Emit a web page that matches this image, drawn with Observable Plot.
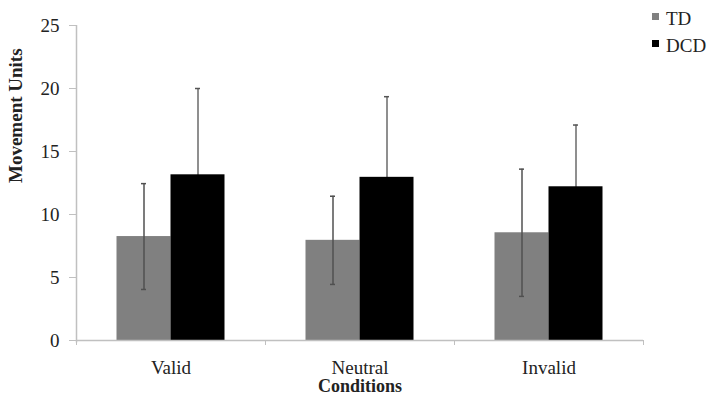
<!DOCTYPE html>
<html>
<head>
<meta charset="utf-8">
<script src="https://cdn.jsdelivr.net/npm/d3@7"></script>
<script src="https://cdn.jsdelivr.net/npm/@observablehq/plot@0.6"></script>
<style>
  html, body { margin: 0; padding: 0; background: #fff; }
  #wrap { position: relative; width: 707px; height: 400px; overflow: hidden; }
  .leg { position: absolute; font-family: "Liberation Serif", "Times New Roman", serif; font-size: 19px; color: #222; white-space: nowrap; line-height: 27px; }
  .sw { position: absolute; width: 7px; height: 7px; }
</style>
</head>
<body>
<div id="wrap"></div>
<script>
const conditions = ["Valid", "Neutral", "Invalid"];
const groups = ["TD", "DCD"];
const tdMean = [8.25, 7.95, 8.55];
const tdSD = [4.2, 3.5, 5.05];
const dcdMean = [13.15, 12.95, 12.2];
const dcdSD = [6.85, 6.4, 4.9];
const yTicks = [0, 5, 10, 15, 20, 25];
const colors = ["#808080", "#000000"];

const half = 108 / 189 / 2; // bar group half-width in band units
const rows = [];
conditions.forEach((c, i) => {
  rows.push({cond: c, i, group: "TD", mean: tdMean[i], sd: tdSD[i], x1: i - half, x2: i});
  rows.push({cond: c, i, group: "DCD", mean: dcdMean[i], sd: dcdSD[i], x1: i, x2: i + half});
});
rows.forEach(d => { d.xc = (d.x1 + d.x2) / 2; });
const td = rows.filter(d => d.group === "TD");
const dcd = rows.filter(d => d.group === "DCD");
const cap = 2.5 / 189;

const chart = Plot.plot({
  width: 707,
  height: 400,
  marginLeft: 76,
  marginRight: 64,
  marginTop: 25,
  marginBottom: 60,
  style: {fontFamily: "'Liberation Serif', 'Times New Roman', serif", fontSize: "19px", color: "#222", background: "#fff"},
  x: {domain: [-0.5, conditions.length - 0.5], axis: null},
  y: {domain: [0, 25], axis: null},
  color: {domain: groups, range: colors},
  marks: [
    // DCD error bars (drawn under bars: only upper half visible)
    Plot.ruleX(dcd, {x: "xc", y1: d => d.mean - d.sd, y2: d => d.mean + d.sd, stroke: "#6a6a6a", strokeWidth: 1.5}),
    Plot.ruleY(dcd, {y: d => d.mean + d.sd, x1: d => d.xc - cap, x2: d => d.xc + cap, stroke: "#555", strokeWidth: 1.5}),
    Plot.rectY(rows, {x1: "x1", x2: "x2", y1: 0, y2: "mean", fill: "group"}),
    // TD error bars
    Plot.ruleX(td, {x: "xc", y1: d => d.mean - d.sd, y2: d => d.mean + d.sd, stroke: "#505050", strokeWidth: 1.5}),
    Plot.ruleY(td, {y: d => d.mean + d.sd, x1: d => d.xc - cap, x2: d => d.xc + cap, stroke: "#505050", strokeWidth: 1.5}),
    Plot.ruleY(td, {y: d => d.mean - d.sd, x1: d => d.xc - cap, x2: d => d.xc + cap, stroke: "#505050", strokeWidth: 1.5}),
    // axes
    Plot.ruleY([0], {stroke: "#c0c0c0", strokeWidth: 1.5}),
    Plot.ruleX([-0.5], {stroke: "#c0c0c0", strokeWidth: 1.5, y1: -0.2, y2: 25}),
    Plot.axisY({ticks: yTicks, tickSize: 7, tickPadding: 10, stroke: "#c0c0c0", fill: "#222", label: null}),
    Plot.axisX({ticks: d3.range(-0.5, conditions.length, 1), tickSize: 5, tickFormat: () => "", stroke: "#c0c0c0", label: null}),
    Plot.axisX({ticks: d3.range(conditions.length), tickSize: 0, tickPadding: 20, tickFormat: i => conditions[i], fill: "#222", label: null}),
    Plot.text(["Movement Units"], {frameAnchor: "left", rotate: -90, dx: -61, fontWeight: "bold", fontSize: 19, fill: "#222"}),
    Plot.text(["Conditions"], {frameAnchor: "bottom", lineAnchor: "top", dy: 39, fontWeight: "bold", fontSize: 18, fill: "#222"})
  ]
});

const wrap = document.getElementById("wrap");
wrap.appendChild(chart);
groups.forEach((g, k) => {
  const sw = document.createElement("div");
  sw.className = "sw";
  sw.style.left = "652px";
  sw.style.top = (13 + 27 * k) + "px";
  sw.style.background = colors[k];
  wrap.appendChild(sw);
  const t = document.createElement("div");
  t.className = "leg";
  t.style.left = "666px";
  t.style.top = (5 + 27 * k) + "px";
  t.textContent = g;
  wrap.appendChild(t);
});
</script>
</body>
</html>
